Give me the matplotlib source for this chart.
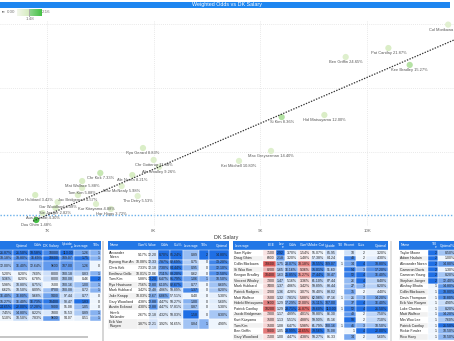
import matplotlib.pyplot as plt
import numpy as np
from matplotlib.patches import Rectangle
from matplotlib.colors import LinearSegmentedColormap, to_rgb

plt.rcParams['font.family'] = ['Liberation Sans', 'DejaVu Sans']

W, H = 454, 341

# ---- scatter data ----
players = ["Col Morikawa", "Pat Cantlay", "Ben Griffin", "Kee Bradley", "Si Kim",
           "Hid Matsuyama", "Max Greyserman", "Kei Mitchell", "Rya Gerard", "Chr Gotterup",
           "Ale Smalley", "Chr Kirk", "Ale Noren", "Mat Wallace", "Mav McNealy",
           "Tom Kim", "Tho Detry", "Mar Hubbard", "Jac Bridgeman", "Gar Woodland",
           "Kur Kitayama", "Har Higgs", "Ste Jaeger", "Aus Eckroat", "Dou Ghim"]
salary = [10760, 10200, 9800, 10400, 9200,
          9600, 9100, 8800, 7900, 8000,
          8050, 7500, 7800, 7330, 7700,
          7330, 7850, 6890, 7290, 7100,
          7460, 7600, 7080, 6960, 6900]
w_odds = [19.95, 18.12, 17.42, 16.80, 12.73,
          12.89, 10.08, 9.30, 10.31, 9.38,
          8.83, 8.36, 8.20, 7.73, 7.34,
          7.19, 6.56, 6.64, 6.64, 6.09,
          5.94, 5.55, 5.63, 5.23, 4.69]
own = ["18.18%", "21.87%", "24.65%", "15.27%", "8.36%",
       "12.00%", "14.40%", "10.80%", "8.83%", "11.38%",
       "9.26%", "7.33%", "8.21%", "5.88%", "5.98%",
       "5.88%", "5.53%", "3.42%", "4.57%", "4.38%",
       "4.88%", "3.72%", "2.82%", "4.30%", "1.48%"]
lev = [0.90, 1.29, 1.05, 1.63, 1.65,
       1.29, 1.05, 1.00, 1.25, 1.10,
       1.00, 1.55, 1.35, 1.32, 1.00,
       1.08, 0.95, 1.37, 1.17, 1.00,
       1.13, 0.90, 1.20, 1.10, 2.16]
lev_min, lev_mid, lev_max = 0.00, 1.48, 2.16
trend_salary = [6870, 10815]
trend_odds = [4.6, 18.75]
avg_odds = 5.08

# ---- table data ----
t1_head = ["Own%", "Optimal", "Odds", "DK Salary", "Upside\n\u25BE", "Leverage", "TI0s"]
t1_rows = [
    ["21.87%", "21.50%", "18.58%", "10000", "113.00", "1.26", "1"],
    ["18.18%", "18.80%", "16.69%", "10600", "109.07", "1.75", "1"],
    ["12.00%", "16.40%", "12.64%", "9600", "107.00", "1.26", "0"],
    ["5.20%", "8.20%", "7.60%", "8000", "100.18", "0.83", "1"],
    ["9.36%", "8.20%", "6.78%", "8000", "100.08", "0.46", "2"],
    ["5.98%", "10.80%", "8.75%", "7500", "100.16", "1.00", "1"],
    ["6.62%", "10.50%", "8.09%", "8700", "100.08", "0.72", "1"],
    ["16.40%", "16.80%", "9.68%", "9400", "97.44", "0.77", "0"],
    ["15.27%", "16.40%", "16.73%", "10400", "98.47", "1.83", "0"],
    ["24.65%", "22.00%", "17.28%", "9800", "95.08", "1.05", "0"],
    ["7.45%", "14.80%", "8.22%", "7800", "95.53", "0.89", "1"],
    ["5.10%", "10.50%", "7.83%", "9600", "94.07", "0.51", "1"],
]
t1_lines = [1, 1, 2, 1, 1, 1, 1, 1, 1, 1, 1, 1]

t2_head = ["Name", "Own%", "Value", "Odds", "Cut%", "Leverage", "TI0s", "Optimal"]
t2_rows = [
    ["Alexander\nNoren", "9.17%", "12.20", "8.70%", "85.24%", "0.89", "2", "14.80%"],
    ["Byeong Hun An", "10.08%", "12.33", "7.87%", "82.69%", "0.75", "0", "13.20%"],
    ["Chris Kirk", "7.33%", "12.18", "7.30%", "84.44%", "0.95", "0", "12.10%"],
    ["Emiliano Grillo", "10.01%", "12.06", "7.11%", "83.20%", "0.62", "0", "12.50%"],
    ["Tom Kim", "5.88%", "13.20", "6.47%", "81.79%", "1.06", "1", "10.50%"],
    ["Ryo Hisatsune", "7.56%", "12.80", "6.10%", "82.67%", "0.77", "0", "8.60%"],
    ["Mark Hubbard", "3.42%", "12.48", "4.86%", "59.89%", "1.37", "0", "8.20%"],
    ["Jake Knapp", "10.03%", "12.67", "6.86%", "57.51%", "0.40", "0", "5.30%"],
    ["Gary Woodland", "4.38%", "12.88", "4.47%", "58.27%", "1.00", "0", "5.60%"],
    ["Austin Eckroat", "4.30%", "12.88", "4.47%", "57.81%", "0.87", "0", "5.30%"],
    ["Henrik\nNorlander", "2.67%", "12.18", "4.32%", "58.03%", "1.58", "0", "8.30%"],
    ["Erik Van\nRooyen", "3.87%", "12.21", "3.92%", "54.65%", "0.84", "1", "4.90%"],
]
t2_lines = [2, 1, 1, 1, 1, 1, 1, 1, 1, 1, 2, 2]

t3_head = ["Leverage", "EEE", "Lev\n\u25BE", "Odds", "Own%", "Make Cut", "Upside", "TI0",
           "Recent", "Cuts", "Optimal"]
t3_rows = [
    ["Sam Ryder", "7100", "2.92", "3.70%", "1.54%", "55.07%", "85.95", "", "10", "2", "3.20%"],
    ["Doug Ghim", "6900", "2.18", "3.20%", "1.48%", "57.38%", "84.24", "", "48", "2", "4.30%"],
    ["Collin Morikawa", "10600", "1.75", "20.07%", "18.18%", "78.55%", "109.07", "1", "34", "4", "18.80%"],
    ["Si Woo Kim", "8200", "1.65", "16.16%", "9.36%", "75.01%", "91.60", "", "54", "3", "17.20%"],
    ["Keegan Bradley", "10400", "1.63", "25.85%", "15.27%", "77.44%", "98.47", "", "52", "4", "16.40%"],
    ["Vincent Whaley", "7300", "1.47", "5.16%", "3.36%", "61.10%", "87.44", "", "26", "4", "8.40%"],
    ["Mark Hubbard", "7400", "1.37", "4.86%", "3.42%", "59.89%", "88.44", "", "27", "3", "8.20%"],
    ["Patrick Rodgers", "7200", "1.36", "4.28%", "3.07%", "58.40%", "88.02", "", "35", "2", "4.40%"],
    ["Matt Wallace", "7500", "1.32", "7.81%", "5.88%", "62.98%", "87.16", "1", "21", "3", "14.20%"],
    ["Hideki Matsuyama", "9600", "1.29", "17.29%", "12.00%", "75.11%", "107.00", "", "37", "4", "16.40%"],
    ["Patrick Cantlay", "10200", "1.29", "28.71%", "21.87%", "78.60%", "113.00", "1", "52", "4", "21.50%"],
    ["Jacob Bridgeman", "7300", "1.17", "4.89%", "4.01%", "58.80%", "86.30", "", "40", "2", "7.50%"],
    ["Kurt Kitayama", "7500", "1.13", "5.51%", "4.88%", "59.90%", "85.16", "", "58", "2", "7.10%"],
    ["Tom Kim", "7500", "1.08", "6.47%", "5.98%", "61.79%", "100.16", "1", "41", "3", "10.50%"],
    ["Ben Griffin", "9800", "1.05", "28.99%", "24.65%", "79.56%", "95.08", "", "1", "4", "22.00%"],
    ["Gary Woodland", "7100", "1.00", "4.47%", "4.38%", "58.27%", "81.33", "", "34", "2", "5.60%"],
]

t4_head = ["Name", "TI0\n\u25BE", "Optimal%"]
t4_rows = [
    ["Taylor Moore", "2", "8.50%"], ["Adam Hadwin", "2", "1.00%"],
    ["Alexander Noren", "2", "14.80%"], ["Cameron Davis", "2", "1.30%"],
    ["Cameron Young", "2", "8.20%"], ["Stephan Jaeger", "2", "12.40%"],
    ["Akshay Bhatia", "1", "14.80%"], ["Collin Morikawa", "1", "18.80%"],
    ["Davis Thompson", "1", "16.80%"], ["Erik Van Rooyen", "1", "4.90%"],
    ["Luke Clanton", "1", "8.20%"], ["Matt Wallace", "1", "14.20%"],
    ["Min Woo Lee", "1", "7.60%"], ["Patrick Cantlay", "1", "21.50%"],
    ["Rickie Fowler", "1", "10.50%"], ["Rico Hoey", "1", "10.50%"],
]

BLUE = ("#eef5fd", "#1f6fe5")
RED = ("#fbeaea", "#dc5a5a")
HEAD = "#2277e6"

fig = plt.figure(figsize=(W / 100, H / 100), dpi=100)


def px_box(x0, y0, x1, y1):
    return [x0 / W, 1 - y1 / H, (x1 - x0) / W, (y1 - y0) / H]


# ---- scatter ----
ax = fig.add_axes(px_box(0, 20, W, 226))
ax.set_xlim(6560, 10815)
ax.set_ylim(4.22, 20.31)
for s in ax.spines.values():
    s.set_visible(False)
ax.set_xticks([7000, 8000, 9000, 10000], ["7K", "8K", "9K", "10K"])
ax.set_yticks([10, 15, 20], [])
ax.tick_params(length=0, labelsize=3.2, labelcolor="#666", pad=2.5)
ax.grid(True, color="#e2e2e2", linestyle=(0, (1, 1.5)), linewidth=0.6)

cmap = LinearSegmentedColormap.from_list(
    "lev", [(0, "#f3f7ec"), (lev_mid / lev_max, "#d6ecc0"), (1, "#45c045")])
ax.scatter(salary, w_odds, s=20, c=lev, cmap=cmap, vmin=lev_min, vmax=lev_max,
           edgecolors="none", zorder=2)
ax.plot(trend_salary, trend_odds, color="#333", linestyle=(0, (1.1, 1.1)), lw=0.9, zorder=3)
ax.axhline(avg_odds, color="#6ab0ea", linestyle=(0, (1, 1.3)), lw=1.0, zorder=1)
for n, x, y, o in zip(players, salary, w_odds, own):
    ax.annotate(f"{n} {o}", (x, y), xytext=(0, -3.8), textcoords="offset points",
                ha="center", va="center", fontsize=2.9, color="#555", zorder=4)

# ---- overlay for title, legend, tables ----
ov = fig.add_axes([0, 0, 1, 1])
ov.axis("off")

ov.add_patch(Rectangle((0, 1.5), 450, 6.5, color="#1e86f0", lw=0))
ov.text(227, 4.9, "Weighted Odds vs DK Salary", color="white", fontsize=3.9,
        ha="center", va="center")
ov.text(226, 237, "DK Salary", color="#333", fontsize=3.9, ha="center", va="center")

# legend
ov.text(5.5, 12.4, "re", fontsize=3.2, color="#555", ha="right", va="center")
ov.text(11.5, 12.4, f"{lev_min:.2f}", fontsize=3.2, color="#777", ha="center", va="center")
ov.text(46, 12.4, f"{lev_max:.2f}", fontsize=3.2, color="#777", ha="center", va="center")
ov.text(29.5, 18.6, f"{lev_mid:.2f}", fontsize=3.2, color="#777", ha="center", va="center")
left = LinearSegmentedColormap.from_list("l", ["#f3f7ec", "#d6ecc0"])
right = LinearSegmentedColormap.from_list("r", ["#8ad68a", "#45c045"])
grad = np.linspace(0, 1, 64)[None, :]
ov.imshow(grad, cmap=left, extent=(17, 29, 15.6, 9.4), aspect="auto")
ov.imshow(grad, cmap=right, extent=(29.8, 41, 15.6, 9.4), aspect="auto")
ov.plot([29.4, 29.4], [9.2, 15.8], color="#999", lw=0.6)
ov.set_xlim(0, W)
ov.set_ylim(H, 0)


def cell_colors(rows, scales):
    cols = list(zip(*rows))
    out = []
    for col, sc in zip(cols, scales):
        if sc is None:
            out.append([None] * len(col))
            continue
        vals = np.array([float(v.strip("%")) if v.strip() else np.nan for v in col])
        lo, hi = np.nanmin(vals), np.nanmax(vals)
        c0, c1 = np.array(to_rgb(sc[0])), np.array(to_rgb(sc[1]))
        res = []
        for v in vals:
            if np.isnan(v):
                res.append("white")
            else:
                t = (v - lo) / (hi - lo) if hi > lo else 0
                res.append(tuple(c0 * (1 - t) + c1 * t))
        out.append(res)
    return list(zip(*out))


def draw_table(edges, top, head, rows, scales, lines=None, row_h=5.6, head_h=9, fs=2.5):
    lines = lines or [1] * len(rows)
    ov.add_patch(Rectangle((edges[0], top), edges[-1] - edges[0], head_h, color=HEAD, lw=0))
    for j, h in enumerate(head):
        if j == 0:
            ov.text(edges[0] + 1.3, top + head_h / 2, h, color="white", fontsize=fs,
                    ha="left", va="center", linespacing=0.9)
        else:
            ov.text(edges[j + 1] - 1.0, top + head_h / 2, h, color="white", fontsize=fs,
                    ha="right", va="center", linespacing=0.9)
    fills = cell_colors(rows, scales)
    y = top + head_h
    for i, (r, nl) in enumerate(zip(rows, lines)):
        rh = row_h if nl == 1 else row_h * 1.7
        stripe = "white" if i % 2 == 0 else "#f1f1f1"
        for j, v in enumerate(r):
            fc = fills[i][j] or stripe
            ov.add_patch(Rectangle((edges[j], y), edges[j + 1] - edges[j], rh,
                                   facecolor=fc, edgecolor="white", lw=0.3))
            if j == 0 and scales[0] is None:
                ov.text(edges[j] + 1.3, y + rh / 2, v, fontsize=fs, color="#222",
                        ha="left", va="center", linespacing=1.0)
            else:
                ov.text(edges[j + 1] - 1.0, y + rh / 2, v, fontsize=fs, color="#222",
                        ha="right", va="center")
        y += rh


draw_table([-14, 13, 29, 43, 60, 74, 90, 101], 241, t1_head, t1_rows,
           [BLUE] * 7, t1_lines)
draw_table([108, 138, 149, 158, 170, 183, 199, 209, 229], 241, t2_head, t2_rows,
           [None, None, BLUE, BLUE, BLUE, BLUE, BLUE, BLUE], t2_lines)
draw_table([233, 263, 276, 285, 298, 311, 325, 337, 344, 356, 366, 388], 241, t3_head,
           t3_rows, [None, RED, BLUE, BLUE, RED, BLUE, BLUE, BLUE, BLUE, BLUE, BLUE])
draw_table([399, 428, 438, 456], 241, t4_head, t4_rows, [None, BLUE, BLUE])

# scrollbars
ov.add_patch(Rectangle((102, 241), 2, 100, color="#d6d6d6", lw=0))
ov.add_patch(Rectangle((0, 336), 88, 2, color="#c6c6c6", lw=0))
ov.add_patch(Rectangle((390, 241), 2, 100, color="#e2e2e2", lw=0))

fig.savefig("out.png", dpi=100)
